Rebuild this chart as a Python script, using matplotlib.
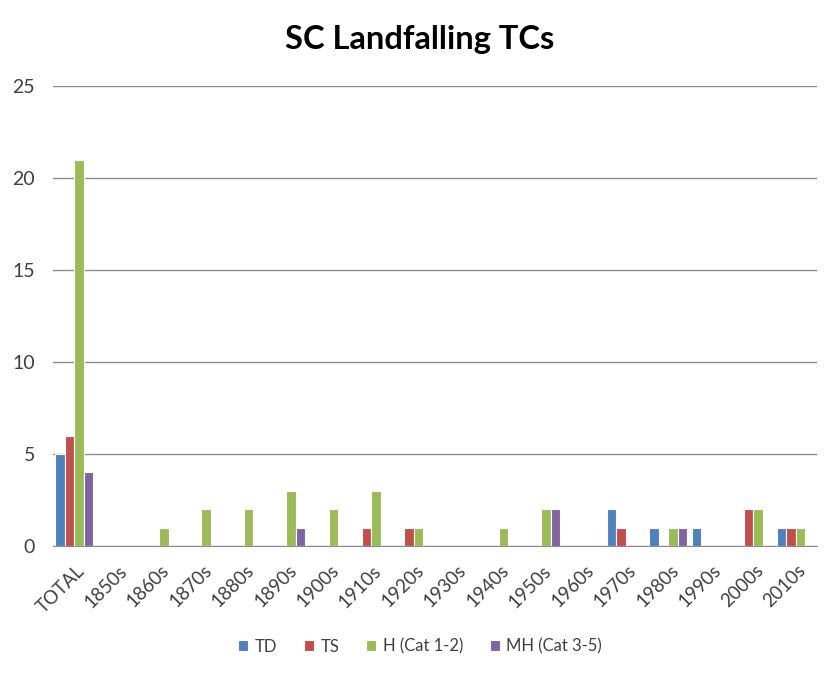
import numpy as np
import matplotlib.pyplot as plt
from matplotlib.transforms import ScaledTranslation

plt.rcParams['font.family'] = ['Lato', 'DejaVu Sans']

decades = ["TOTAL", "1850s", "1860s", "1870s", "1880s", "1890s", "1900s", "1910s",
           "1920s", "1930s", "1940s", "1950s", "1960s", "1970s", "1980s", "1990s",
           "2000s", "2010s"]
td = [5, 0, 0, 0, 0, 0, 0, 0, 0, 0, 0, 0, 0, 2, 1, 1, 0, 1]
ts = [6, 0, 0, 0, 0, 0, 0, 1, 1, 0, 0, 0, 0, 1, 0, 0, 2, 1]
h12 = [21, 0, 1, 2, 2, 3, 2, 3, 1, 0, 1, 2, 0, 0, 1, 0, 2, 1]
mh = [4, 0, 0, 0, 0, 1, 0, 0, 0, 0, 0, 2, 0, 0, 1, 0, 0, 0]

series = [("TD", td, "#4F81BD"), ("TS", ts, "#C0504D"),
          ("H (Cat 1-2)", h12, "#9BBB59"), ("MH (Cat 3-5)", mh, "#8064A2")]


def main():
    fig = plt.figure(figsize=(8.4, 6.77), dpi=100)
    ax = fig.add_axes([0.063, 0.1935, 0.9095, 0.6795])

    x = np.arange(len(decades))
    w = 0.224
    for i, (name, vals, col) in enumerate(series):
        ax.bar(x + (i - 1.5) * w, vals, w, color=col, edgecolor="white",
               linewidth=0.8, label=name, zorder=3)

    ax.set_xlim(-0.5, len(decades) - 0.5)
    ax.set_ylim(0, 25)
    ax.set_yticks(range(0, 26, 5))
    ax.yaxis.grid(True, color="#8c8c8c", linewidth=1)
    ax.set_axisbelow(True)
    for s in ["top", "right", "left"]:
        ax.spines[s].set_visible(False)
    ax.spines["bottom"].set_color("#8c8c8c")
    ax.tick_params(axis="y", length=0, pad=13, labelsize=14, labelcolor="#404040")
    ax.tick_params(axis="x", length=0)

    ax.set_xticks(x)
    ax.set_xticklabels(decades, rotation=45, ha="right", va="top",
                       rotation_mode="anchor", fontsize=13.5, color="#404040")
    off = ScaledTranslation(1 / 72, -8 / 72, fig.dpi_scale_trans)
    for lbl in ax.get_xticklabels():
        lbl.set_transform(lbl.get_transform() + off)

    fig.suptitle("SC Landfalling TCs", x=0.5, y=0.963, fontsize=23.5,
                 fontweight="bold")

    ax.legend(loc="center", bbox_to_anchor=(0.5, 0.045),
              bbox_transform=fig.transFigure, ncol=4, frameon=False,
              fontsize=12, handlelength=0.6, handleheight=0.6,
              handletextpad=0.4, columnspacing=1.6, labelcolor="#404040")

    fig.savefig("out.png", dpi=100)


if __name__ == "__main__":
    main()
